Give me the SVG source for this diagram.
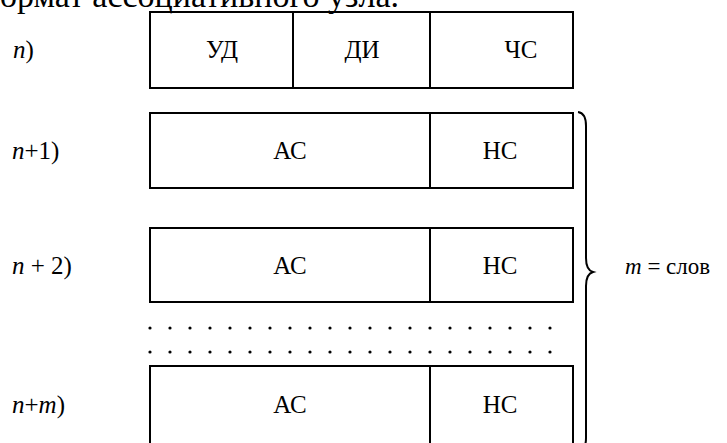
<svg xmlns="http://www.w3.org/2000/svg" width="727" height="443" viewBox="0 0 727 443">
<style>
.b{fill:none;stroke:#000;stroke-width:2}
text{font-family:'Liberation Serif','DejaVu Serif',serif;font-size:25px;fill:#000}
.c{text-anchor:middle}
.i{font-style:italic}
</style>
<rect width="727" height="443" fill="#fff"/>
<text x="0" y="7" style="font-size:34px">ормат ассоциативного узла.</text>
<g id="row-n">
<rect class="b" x="150" y="12" width="423" height="76"/>
<line class="b" x1="293" y1="12" x2="293" y2="88"/>
<line class="b" x1="430" y1="12" x2="430" y2="88"/>
<text x="13" y="58"><tspan class="i">n</tspan>)</text>
<text class="c" x="222" y="58">УД</text>
<text class="c" x="362" y="58">ДИ</text>
<text class="c" x="521" y="58">ЧС</text>
</g>
<g id="row-n1">
<rect class="b" x="150" y="113" width="423" height="75"/>
<line class="b" x1="430" y1="113" x2="430" y2="188"/>
<text x="12" y="159"><tspan class="i">n</tspan>+1)</text>
<text class="c" x="290" y="159">АС</text>
<text class="c" x="500" y="159">НС</text>
</g>
<g id="row-n2">
<rect class="b" x="150" y="228" width="423" height="74"/>
<line class="b" x1="430" y1="228" x2="430" y2="302"/>
<text x="12" y="274"><tspan class="i">n</tspan> + 2)</text>
<text class="c" x="290" y="274">АС</text>
<text class="c" x="500" y="274">НС</text>
</g>
<g id="dots" fill="#000">
<circle cx="150" cy="328" r="1.6"/><circle cx="170" cy="328" r="1.6"/><circle cx="190" cy="328" r="1.6"/><circle cx="210" cy="328" r="1.6"/><circle cx="230" cy="328" r="1.6"/><circle cx="250" cy="328" r="1.6"/><circle cx="270" cy="328" r="1.6"/><circle cx="290" cy="328" r="1.6"/><circle cx="310" cy="328" r="1.6"/><circle cx="330" cy="328" r="1.6"/><circle cx="350" cy="328" r="1.6"/><circle cx="370" cy="328" r="1.6"/><circle cx="390" cy="328" r="1.6"/><circle cx="410" cy="328" r="1.6"/><circle cx="430" cy="328" r="1.6"/><circle cx="450" cy="328" r="1.6"/><circle cx="470" cy="328" r="1.6"/><circle cx="490" cy="328" r="1.6"/><circle cx="510" cy="328" r="1.6"/><circle cx="530" cy="328" r="1.6"/><circle cx="550" cy="328" r="1.6"/>
<circle cx="150" cy="352" r="1.6"/><circle cx="170" cy="352" r="1.6"/><circle cx="190" cy="352" r="1.6"/><circle cx="210" cy="352" r="1.6"/><circle cx="230" cy="352" r="1.6"/><circle cx="250" cy="352" r="1.6"/><circle cx="270" cy="352" r="1.6"/><circle cx="290" cy="352" r="1.6"/><circle cx="310" cy="352" r="1.6"/><circle cx="330" cy="352" r="1.6"/><circle cx="350" cy="352" r="1.6"/><circle cx="370" cy="352" r="1.6"/><circle cx="390" cy="352" r="1.6"/><circle cx="410" cy="352" r="1.6"/><circle cx="430" cy="352" r="1.6"/><circle cx="450" cy="352" r="1.6"/><circle cx="470" cy="352" r="1.6"/><circle cx="490" cy="352" r="1.6"/><circle cx="510" cy="352" r="1.6"/><circle cx="530" cy="352" r="1.6"/><circle cx="550" cy="352" r="1.6"/>
</g>
<g id="row-nm">
<rect class="b" x="150" y="366" width="423" height="90"/>
<line class="b" x1="430" y1="366" x2="430" y2="456"/>
<text x="12" y="413"><tspan class="i">n</tspan>+<tspan class="i">m</tspan>)</text>
<text class="c" x="290" y="413">АС</text>
<text class="c" x="500" y="413">НС</text>
</g>
<g id="connectors">
<path class="b" stroke-width="1.6" d="M578,112 Q586,113 586,126 L586,258 Q586,270 593,272 Q586,274 586,286 L586,438 Q586,450 578,452"/>
</g>
<g id="brace-label">
<text x="625" y="274" style="font-size:23px"><tspan class="i">m</tspan> = слов</text>
</g>
</svg>
